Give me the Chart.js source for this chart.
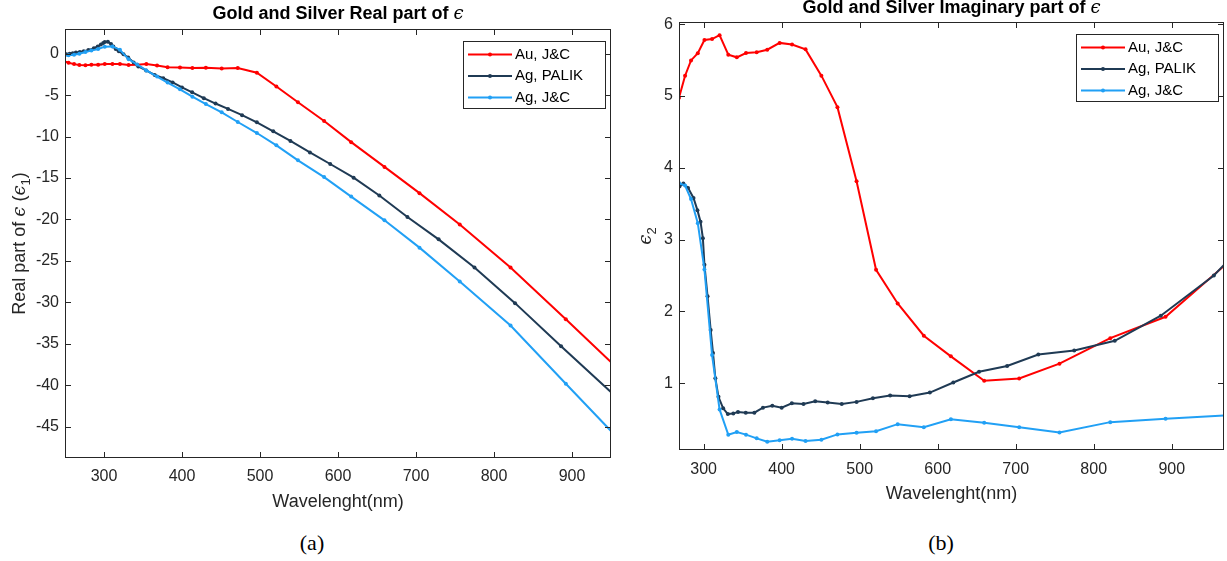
<!DOCTYPE html>
<html>
<head>
<meta charset="utf-8">
<script src="https://cdn.jsdelivr.net/npm/chart.js@4.4.1/dist/chart.umd.min.js"></script>
<style>
  body { margin: 0; background: #fff; width: 1227px; height: 561px; position: relative; overflow: hidden; }
  canvas { position: absolute; top: 0; }
  #realChart { left: 0; }
  #imagChart { left: 620px; }
  .cap { position: absolute; top: 531px; line-height: 24px; font-family: "Liberation Serif", serif; font-size: 22px; color: #000; transform: translateX(-50%); }
</style>
</head>
<body>
<canvas id="realChart" width="620" height="520"></canvas>
<canvas id="imagChart" width="607" height="520"></canvas>
<div class="cap" style="left:312px">(a)</div>
<div class="cap" style="left:941px">(b)</div>
<script>
// Johnson & Christy wavelengths (nm)
const jcWavelength = [984.1, 892.1, 821.2, 756.1, 704.5, 659.6, 616.9, 582.2, 548.7, 521.0, 496.0, 471.5, 450.9, 430.6, 413.3, 397.4, 381.5, 368.0, 354.3, 342.5, 331.6, 320.4, 310.8, 301.0, 292.5, 283.8, 276.2, 268.4, 261.6, 254.6, 248.5];
const auReal = [-40.27, -32.04, -25.81, -20.61, -16.82, -13.65, -10.66, -8.11, -5.84, -3.95, -2.28, -1.70, -1.76, -1.69, -1.70, -1.65, -1.61, -1.40, -1.23, -1.31, -1.35, -1.23, -1.24, -1.23, -1.31, -1.33, -1.37, -1.35, -1.24, -1.08, -0.89];
const auImag = [2.794, 1.925, 1.627, 1.272, 1.067, 1.035, 1.374, 1.661, 2.111, 2.580, 3.813, 4.844, 5.283, 5.649, 5.717, 5.739, 5.644, 5.609, 5.598, 5.538, 5.574, 5.846, 5.793, 5.780, 5.596, 5.495, 5.282, 4.976, 4.722, 4.490, 4.338];
const agJcReal = [-48.89, -39.84, -32.80, -27.48, -23.40, -20.10, -17.24, -14.88, -12.86, -11.05, -9.56, -8.23, -7.06, -6.06, -5.17, -4.28, -3.47, -2.74, -2.00, -1.28, -0.66, 0.50, 0.90, 0.87, 0.58, 0.39, 0.22, 0.02, -0.10, -0.17, -0.21];
const agJcImag = [0.559, 0.505, 0.458, 0.315, 0.387, 0.448, 0.498, 0.386, 0.430, 0.332, 0.309, 0.287, 0.213, 0.197, 0.228, 0.207, 0.186, 0.232, 0.284, 0.320, 0.282, 0.635, 1.392, 2.584, 3.228, 3.564, 3.753, 3.787, 3.745, 3.705, 3.639];

// Palik silver
const palikWavelength = [248, 252, 256, 260, 264, 269, 274, 280, 287, 292, 296, 299, 301, 305, 309, 312, 315, 319, 325, 331, 338, 344, 354, 365, 376, 388, 400, 413, 428, 443, 459, 477, 496, 517, 539, 564, 590, 620, 653, 689, 729, 775, 827, 886, 954, 1033];
const agPalikReal = [-0.10, -0.05, 0.02, 0.08, 0.15, 0.22, 0.32, 0.45, 0.68, 0.90, 1.12, 1.32, 1.42, 1.45, 1.20, 0.90, 0.60, 0.30, -0.05, -0.45, -1.05, -1.52, -2.00, -2.55, -2.95, -3.45, -4.05, -4.65, -5.35, -6.00, -6.65, -7.40, -8.27, -9.35, -10.52, -11.90, -13.30, -14.95, -17.10, -19.70, -22.40, -25.80, -30.10, -35.30, -41.20, -48.50];
const agPalikImag = [3.45, 3.55, 3.62, 3.68, 3.72, 3.74, 3.78, 3.72, 3.58, 3.41, 3.25, 3.02, 2.65, 2.21, 1.74, 1.42, 1.07, 0.81, 0.65, 0.57, 0.58, 0.60, 0.59, 0.59, 0.66, 0.685, 0.66, 0.72, 0.71, 0.75, 0.73, 0.71, 0.74, 0.79, 0.83, 0.82, 0.87, 1.01, 1.16, 1.24, 1.40, 1.455, 1.59, 1.94, 2.50, 3.40];

const seriesLabels = ['Au, J&C', 'Ag, PALIK', 'Ag, J&C'];
const seriesColors = ['#ff0000', '#1f3a54', '#21a0f5'];
const wavelengthTicks = [300, 400, 500, 600, 700, 800, 900];
const realTicks = [-45, -40, -35, -30, -25, -20, -15, -10, -5, 0];
const imagTicks = [1, 2, 3, 4, 5, 6];

const axisColor = '#262626';
const sans = '"Liberation Sans", Arial, sans-serif';
const mathFont = 'italic 18px "DejaVu Serif", serif';

function series(label, xs, ys, color, order) {
    return {
        label: label,
        data: xs.map((x, i) => ({ x: x, y: ys[i] })),
        borderColor: color,
        backgroundColor: color,
        borderWidth: 2,
        pointRadius: 2,
        pointBorderWidth: 0,
        pointBackgroundColor: color,
        pointHoverRadius: 0,
        tension: 0,
        clip: 0,
        order: order
    };
}

// draws a run of text pieces with different fonts, centred on x
function drawRich(ctx, parts, cx, baseline) {
    let total = 0;
    parts.forEach(p => { ctx.font = p.font; total += ctx.measureText(p.text).width; });
    let x = cx - total / 2;
    parts.forEach(p => {
        ctx.font = p.font;
        ctx.fillText(p.text, x, baseline + (p.dy || 0));
        x += ctx.measureText(p.text).width;
    });
}

function matlabDecor(cfg) {
    return {
        id: 'matlabDecor',
        afterDatasetsDraw(chart) {
            const { ctx, chartArea: a, scales } = chart;
            ctx.save();
            ctx.strokeStyle = axisColor;
            ctx.lineWidth = 1;
            ctx.strokeRect(a.left + 0.5, a.top + 0.5, a.right - a.left - 1, a.bottom - a.top - 1);

            // inward ticks on all four sides
            ctx.beginPath();
            scales.x.ticks.forEach(t => {
                const px = Math.round(scales.x.getPixelForValue(t.value)) + 0.5;
                ctx.moveTo(px, a.bottom); ctx.lineTo(px, a.bottom - 6);
                ctx.moveTo(px, a.top); ctx.lineTo(px, a.top + 6);
            });
            scales.y.ticks.forEach(t => {
                const py = Math.round(scales.y.getPixelForValue(t.value)) + 0.5;
                ctx.moveTo(a.left, py); ctx.lineTo(a.left + 6, py);
                ctx.moveTo(a.right, py); ctx.lineTo(a.right - 6, py);
            });
            ctx.stroke();

            // legend box inside the top right corner
            const lw = 142, lh = 67;
            const lx = Math.round(a.right - 6 - lw), ly = Math.round(a.top + 12);
            ctx.fillStyle = '#fff';
            ctx.fillRect(lx, ly, lw, lh);
            ctx.strokeRect(lx + 0.5, ly + 0.5, lw, lh);
            chart.data.datasets.forEach((ds, i) => {
                const y = ly + 13.5 + i * 21.5;
                ctx.strokeStyle = ds.borderColor;
                ctx.lineWidth = 2;
                ctx.beginPath();
                ctx.moveTo(lx + 5, y); ctx.lineTo(lx + 49, y);
                ctx.stroke();
                ctx.fillStyle = ds.borderColor;
                ctx.beginPath();
                ctx.arc(lx + 27, y, 2, 0, Math.PI * 2);
                ctx.fill();
                ctx.fillStyle = '#000';
                ctx.font = '15px ' + sans;
                ctx.textBaseline = 'middle';
                ctx.textAlign = 'left';
                ctx.fillText(ds.label, lx + 52, y);
            });

            // title
            ctx.textBaseline = 'alphabetic';
            ctx.textAlign = 'left';
            ctx.fillStyle = '#000';
            drawRich(ctx, cfg.title, (a.left + a.right) / 2, a.top - cfg.titleGap);

            // rotated y label
            ctx.fillStyle = axisColor;
            ctx.translate(cfg.yLabelX, (a.top + a.bottom) / 2);
            ctx.rotate(-Math.PI / 2);
            drawRich(ctx, cfg.yLabel, 0, 6.5);
            ctx.restore();
        }
    };
}

function initChart(canvasId, cfg) {
    const tickFont = { family: sans, size: 16 };
    new Chart(document.getElementById(canvasId), {
        type: 'line',
        data: {
            datasets: [
                series(seriesLabels[0], jcWavelength, cfg.au, seriesColors[0], 3),
                series(seriesLabels[1], palikWavelength, cfg.palik, seriesColors[1], 2),
                series(seriesLabels[2], jcWavelength, cfg.agJc, seriesColors[2], 1)
            ]
        },
        options: {
            responsive: false,
            animation: false,
            devicePixelRatio: 1,
            layout: { padding: { top: cfg.top, right: cfg.padRight, bottom: 0, left: 0 } },
            plugins: {
                legend: { display: false },
                tooltip: { enabled: false },
                title: { display: false }
            },
            scales: {
                x: {
                    type: 'linear',
                    min: cfg.xMin,
                    max: cfg.xMax,
                    grid: { display: false, drawTicks: false },
                    border: { display: false },
                    ticks: { color: axisColor, font: tickFont, padding: cfg.xTickPad, maxRotation: 0, autoSkip: false },
                    afterBuildTicks: s => { s.ticks = wavelengthTicks.map(v => ({ value: v })); },
                    afterFit: s => { s.height = cfg.xAxisHeight; },
                    title: {
                        display: true,
                        text: 'Wavelenght(nm)',
                        color: axisColor,
                        font: { family: sans, size: 18 },
                        padding: { top: 0, bottom: cfg.xTitlePad }
                    }
                },
                y: {
                    type: 'linear',
                    min: cfg.yMin,
                    max: cfg.yMax,
                    grid: { display: false, drawTicks: false },
                    border: { display: false },
                    ticks: { color: axisColor, font: tickFont, padding: 6, autoSkip: false },
                    afterBuildTicks: s => { s.ticks = cfg.yTicks.map(v => ({ value: v })); },
                    afterFit: s => { s.width = cfg.left; }
                }
            }
        },
        plugins: [matlabDecor(cfg)]
    });
}

document.addEventListener('DOMContentLoaded', function() {
    initChart('realChart', {
        au: auReal, palik: agPalikReal, agJc: agJcReal,
        xMin: 250, xMax: 950, yMin: -48.8, yMax: 3.0, yTicks: realTicks,
        left: 65, top: 29, padRight: 9, xAxisHeight: 62, xTickPad: 9, xTitlePad: 7,
        yLabelX: 18, titleGap: 10,
        title: [
            { text: 'Gold and Silver Real part of ', font: 'bold 18px ' + sans },
            { text: 'ϵ', font: mathFont }
        ],
        yLabel: [
            { text: 'Real part of ', font: '18px ' + sans },
            { text: 'ϵ', font: mathFont },
            { text: ' (', font: '18px ' + sans },
            { text: 'ϵ', font: mathFont },
            { text: '1', font: '13px ' + sans, dy: 5 },
            { text: ')', font: '18px ' + sans }
        ]
    });
    initChart('imagChart', {
        au: auImag, palik: agPalikImag, agJc: agJcImag,
        xMin: 268.4, xMax: 967, yMin: 0.07, yMax: 6.03, yTicks: imagTicks,
        left: 59, top: 22, padRight: 3, xAxisHeight: 70, xTickPad: 10, xTitlePad: 15,
        yLabelX: 24, titleGap: 9,
        title: [
            { text: 'Gold and Silver Imaginary part of ', font: 'bold 18px ' + sans },
            { text: 'ϵ', font: mathFont }
        ],
        yLabel: [
            { text: 'ϵ', font: mathFont },
            { text: '2', font: '13px ' + sans, dy: 5 }
        ]
    });
});
</script>
</body>
</html>
